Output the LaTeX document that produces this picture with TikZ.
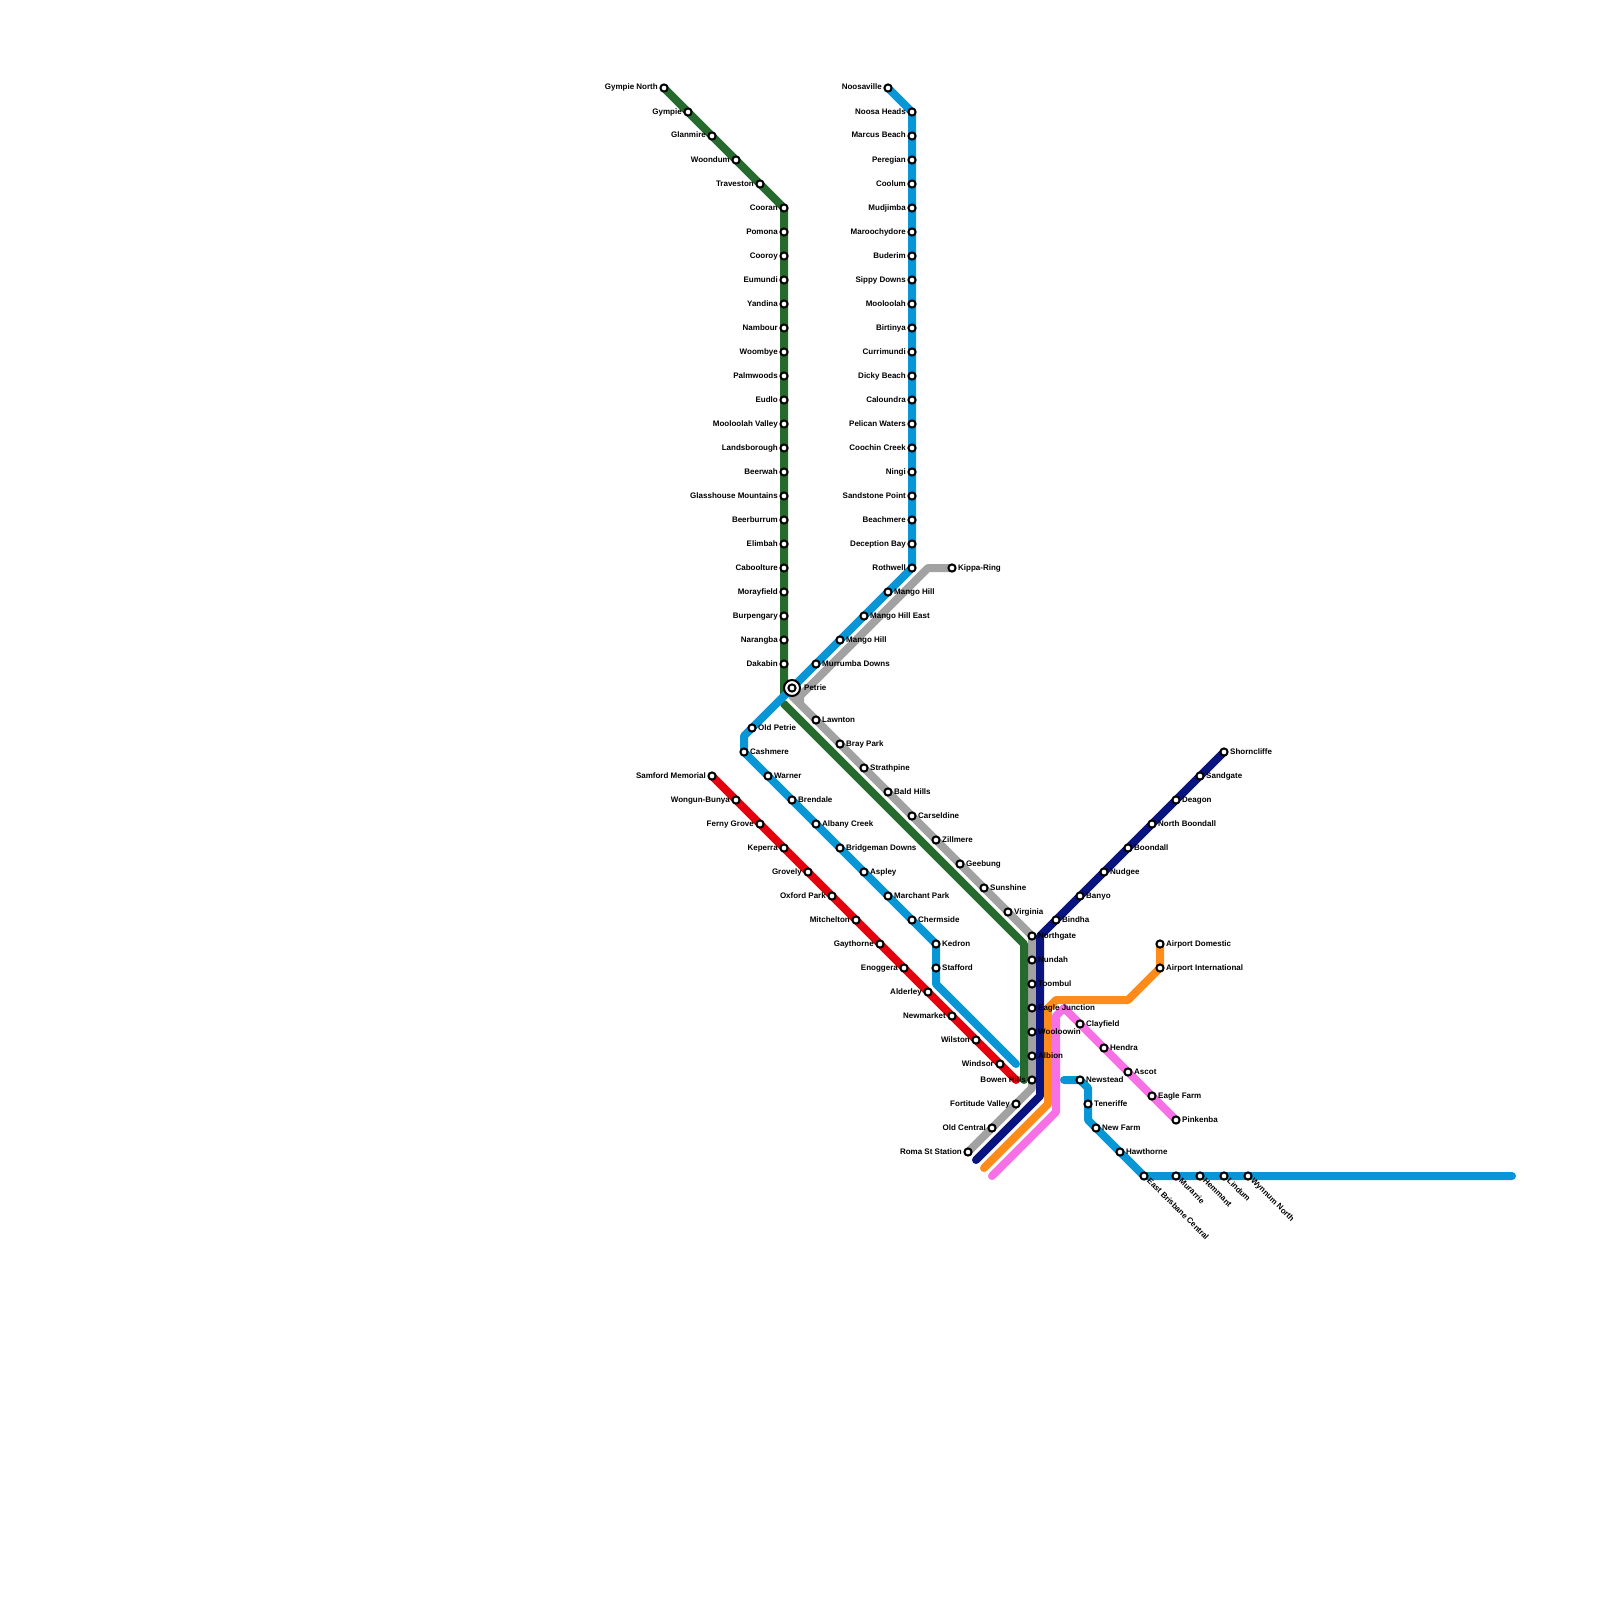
\documentclass[tikz,border=0pt]{standalone}
\usepackage{fontspec}
\setmainfont{Liberation Sans}
\usetikzlibrary{backgrounds}

\definecolor{railgreen}{HTML}{266A2E}
\definecolor{railblue}{HTML}{0896D7}
\definecolor{railgray}{HTML}{A2A2A2}
\definecolor{railred}{HTML}{E3000F}
\definecolor{railnavy}{HTML}{0A147F}
\definecolor{railorange}{HTML}{FF8C1A}
\definecolor{railpink}{HTML}{F770E6}

\tikzset{
  railline/.style={line width=8pt,line cap=round,line join=round},
  stop/.style={circle,draw=black,fill=white,line width=2pt,minimum size=7.2pt,inner sep=0pt},
  txtbase/.style={font=\bfseries\fontsize{8}{8}\selectfont,inner sep=0pt,text height=6pt,text depth=2pt},
  txtl/.style={txtbase,anchor=east,xshift=-6pt},
  txtr/.style={txtbase,anchor=west,xshift=6pt},
  txtd/.style={txtbase,anchor=west,rotate=-45,xshift=5.66pt}
}

\begin{document}
\begin{tikzpicture}[x=1pt,y=-1pt]
  \useasboundingbox (0,0) rectangle (1600,1600);

  % north coast line
  \foreach \nm/\xx/\yy/\txt in {gympienorth/664/88/Gympie North,gympie/688/112/Gympie,glanmire/712/136/Glanmire,
    woondum/736/160/Woondum,traveston/760/184/Traveston,cooran/784/208/Cooran,pomona/784/232/Pomona,cooroy/784/256/Cooroy,
    eumundi/784/280/Eumundi,yandina/784/304/Yandina,nambour/784/328/Nambour,woombye/784/352/Woombye,
    palmwoods/784/376/Palmwoods,eudlo/784/400/Eudlo,mooloolahvalley/784/424/Mooloolah Valley,
    landsborough/784/448/Landsborough,beerwah/784/472/Beerwah,glasshouse/784/496/Glasshouse Mountains,
    beerburrum/784/520/Beerburrum,elimbah/784/544/Elimbah,caboolture/784/568/Caboolture,morayfield/784/592/Morayfield,
    burpengary/784/616/Burpengary,narangba/784/640/Narangba,dakabin/784/664/Dakabin}
    {\node[stop] (\nm) at (\xx,\yy) {}; \node[txtl] (\nm-t) at (\xx,\yy) {\txt};}

  % sunshine coast column
  \foreach \nm/\xx/\yy/\txt in {noosaville/888/88/Noosaville,noosaheads/912/112/Noosa Heads,marcus/912/136/Marcus Beach,
    peregian/912/160/Peregian,coolum/912/184/Coolum,mudjimba/912/208/Mudjimba,maroochydore/912/232/Maroochydore,
    buderim/912/256/Buderim,sippy/912/280/Sippy Downs,mooloolah/912/304/Mooloolah,birtinya/912/328/Birtinya,
    currimundi/912/352/Currimundi,dicky/912/376/Dicky Beach,caloundra/912/400/Caloundra,pelican/912/424/Pelican Waters,
    coochin/912/448/Coochin Creek,ningi/912/472/Ningi,sandstone/912/496/Sandstone Point,beachmere/912/520/Beachmere,
    deception/912/544/Deception Bay,rothwell/912/568/Rothwell}
    {\node[stop] (\nm) at (\xx,\yy) {}; \node[txtl] (\nm-t) at (\xx,\yy) {\txt};}

  % ferny grove line and the few others labelled on the left
  \foreach \nm/\xx/\yy/\txt in {samford/712/776/Samford Memorial,wongun/736/800/Wongun-Bunya,ferny/760/824/Ferny Grove,
    keperra/784/848/Keperra,grovely/808/872/Grovely,oxford/832/896/Oxford Park,mitchelton/856/920/Mitchelton,
    gaythorne/880/944/Gaythorne,enoggera/904/968/Enoggera,alderley/928/992/Alderley,newmarket/952/1016/Newmarket,
    wilston/976/1040/Wilston,windsor/1000/1064/Windsor,bowen/1032/1080/Bowen Hills,fortitude/1016/1104/Fortitude Valley,
    oldcentral/992/1128/Old Central,roma/968/1152/Roma St Station}
    {\node[stop] (\nm) at (\xx,\yy) {}; \node[txtl] (\nm-t) at (\xx,\yy) {\txt};}

  % labelled on the right
  \foreach \nm/\xx/\yy/\txt in {kippa/952/568/Kippa-Ring,mangohill/888/592/Mango Hill,mangoeast/864/616/Mango Hill East,
    mangohillb/840/640/Mango Hill,murrumba/816/664/Murrumba Downs,lawnton/816/720/Lawnton,brayp/840/744/Bray Park,
    strathpine/864/768/Strathpine,baldhills/888/792/Bald Hills,carseldine/912/816/Carseldine,zillmere/936/840/Zillmere,
    geebung/960/864/Geebung,sunshine/984/888/Sunshine,virginia/1008/912/Virginia,northgate/1032/936/Northgate,
    nundah/1032/960/Nundah,toombul/1032/984/Toombul,eaglej/1032/1008/Eagle Junction,wooloowin/1032/1032/Wooloowin,
    albion/1032/1056/Albion,oldpetrie/752/728/Old Petrie,cashmere/744/752/Cashmere,warner/768/776/Warner,
    brendale/792/800/Brendale,albany/816/824/Albany Creek,bridgeman/840/848/Bridgeman Downs,aspley/864/872/Aspley,
    marchant/888/896/Marchant Park,chermside/912/920/Chermside,kedron/936/944/Kedron,stafford/936/968/Stafford,
    shorncliffe/1224/752/Shorncliffe,sandgate/1200/776/Sandgate,deagon/1176/800/Deagon,nboondall/1152/824/North Boondall,
    boondall/1128/848/Boondall,nudgee/1104/872/Nudgee,banyo/1080/896/Banyo,bindha/1056/920/Bindha,
    airportd/1160/944/Airport Domestic,airporti/1160/968/Airport International,clayfield/1080/1024/Clayfield,
    hendra/1104/1048/Hendra,ascot/1128/1072/Ascot,eaglefarm/1152/1096/Eagle Farm,pinkenba/1176/1120/Pinkenba,
    newstead/1080/1080/Newstead,teneriffe/1088/1104/Teneriffe,newfarm/1096/1128/New Farm,hawthorne/1120/1152/Hawthorne}
    {\node[stop] (\nm) at (\xx,\yy) {}; \node[txtr] (\nm-t) at (\xx,\yy) {\txt};}

  % cleveland line, slanted
  \foreach \nm/\xx/\txt in {eastbrisbane/1144/East Brisbane Central,murarrie/1176/Murarrie,hemmant/1200/Hemmant,
    lindum/1224/Lindum,wynnum/1248/Wynnum North}
    {\node[stop] (\nm) at (\xx,1176) {}; \node[txtd] (\nm-t) at (\xx,1176) {\txt};}

  % interchange
  \node[circle,draw=black,fill=white,line width=2pt,minimum size=16pt,inner sep=0pt] (petrie) at (792,688) {};
  \node[stop] (petriein) at (petrie) {};
  \node[txtr,xshift=6pt] (petrie-t) at (petrie) {Petrie};

  % bends and free ends
  \coordinate (greenc) at (784,696);
  \coordinate (greend) at (784,704);
  \coordinate (greene) at (1024,944);
  \coordinate (greenf) at (1024,1080);
  \coordinate (blued) at (744,736);
  \coordinate (bluee) at (936,984);
  \coordinate (bluef) at (1016,1064);
  \coordinate (graya) at (792,696);
  \coordinate (grayb) at (928,568);
  \coordinate (grayc) at (800,696);
  \coordinate (grayd) at (800,704);
  \coordinate (graye) at (1032,1088);
  \coordinate (navyb) at (1040,936);
  \coordinate (navyc) at (1040,1096);
  \coordinate (navyd) at (976,1160);
  \coordinate (orangeb) at (1128,1000);
  \coordinate (orangec) at (1056,1000);
  \coordinate (oranged) at (1048,1008);
  \coordinate (orangee) at (1048,1104);
  \coordinate (orangef) at (984,1168);
  \coordinate (pinkb) at (1064,1008);
  \coordinate (pinkc) at (1056,1016);
  \coordinate (pinkd) at (1056,1112);
  \coordinate (pinke) at (992,1176);
  \coordinate (redend) at (1016,1080);
  \coordinate (blue2a) at (1064,1080);
  \coordinate (blue2b) at (1088,1088);
  \coordinate (blue2c) at (1088,1120);
  \coordinate (blue2d) at (1512,1176);

  \begin{scope}[on background layer]
    \draw[railline,railred] (samford.center) -- (redend);
    \draw[railline,railgray] (graya) -- (grayd);
    \draw[railline,railgray] (kippa.center) -- (grayb) -- (grayc) -- (grayd) -- (northgate.center) -- (graye) -- (roma.center);
    \draw[railline,railgreen] (gympienorth.center) -- (cooran.center) -- (greenc);
    \draw[railline,railgreen] (greend) -- (greene) -- (greenf);
    \draw[railline,railblue] (noosaville.center) -- (noosaheads.center) -- (rothwell.center) -- (blued)
      -- (cashmere.center) -- (kedron.center) -- (bluee) -- (bluef);
    \draw[railline,railblue] (blue2a) -- (newstead.center) -- (blue2b) -- (blue2c) -- (eastbrisbane.center) -- (blue2d);
    \draw[railline,railnavy] (shorncliffe.center) -- (navyb) -- (navyc) -- (navyd);
    \draw[railline,railorange] (airportd.center) -- (airporti.center) -- (orangeb) -- (orangec) -- (oranged) -- (orangee) -- (orangef);
    \draw[railline,railpink] (pinkenba.center) -- (pinkb) -- (pinkc) -- (pinkd) -- (pinke);
  \end{scope}
\end{tikzpicture}
\end{document}
